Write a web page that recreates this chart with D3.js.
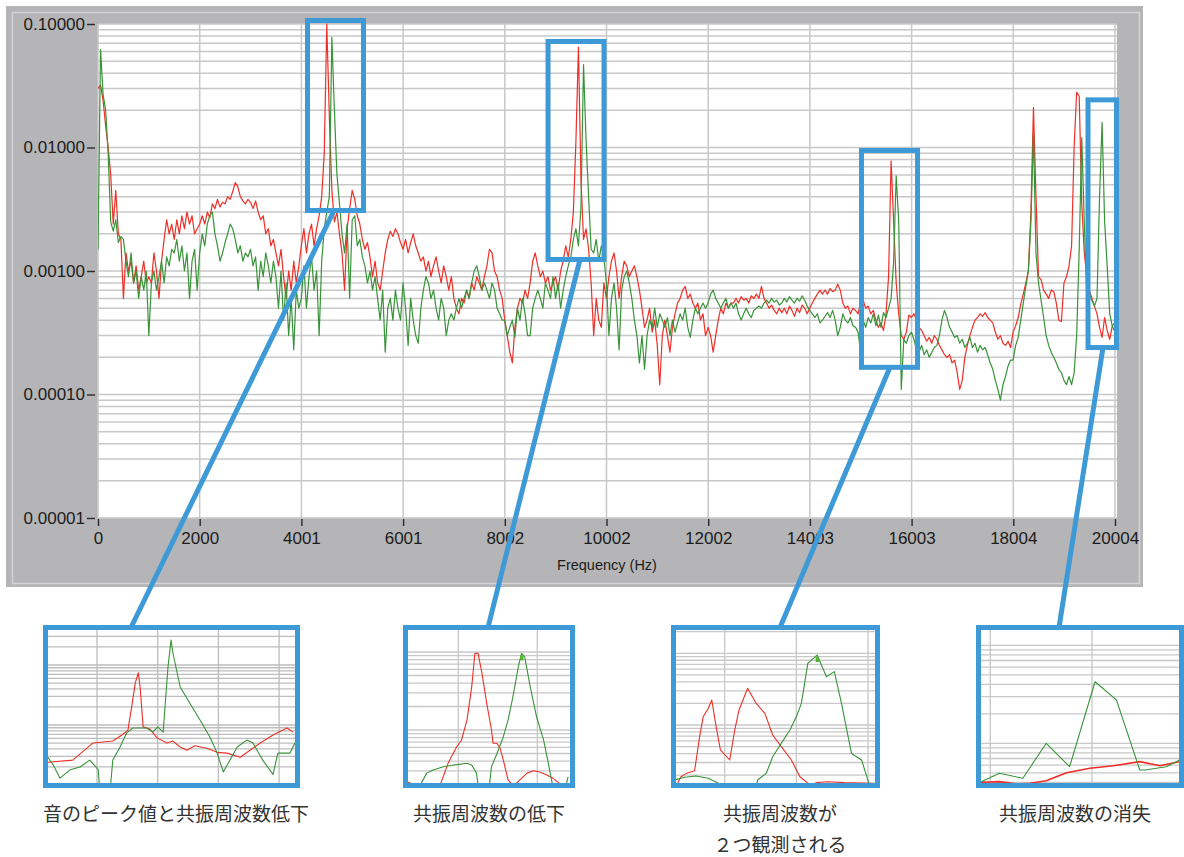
<!DOCTYPE html>
<html lang="ja">
<head>
<meta charset="utf-8">
<title>Frequency spectrum</title>
<script src="https://cdn.jsdelivr.net/npm/d3@7/dist/d3.min.js"></script>
<style>
  html, body { margin: 0; padding: 0; background: #fff; }
  svg { display: block; }
</style>
</head>
<body>
<svg id="chart" width="1184" height="857"></svg>
<script>
// ---- spectrum data: bins every 50 Hz starting at 0 Hz ----
const freqStep = 50;

const redSpectrum = [
  300e-4,320e-4,240e-4,150e-4,100e-4,60e-4,24e-4,45e-4,20e-4,18e-4,
  6e-4,14e-4,10e-4,12e-4,8e-4,11e-4,7e-4,9e-4,12e-4,8e-4,
  9e-4,8e-4,14e-4,10e-4,6e-4,12e-4,18e-4,26e-4,20e-4,24e-4,
  18e-4,26e-4,20e-4,28e-4,22e-4,30e-4,24e-4,28e-4,20e-4,22e-4,
  24e-4,28e-4,24e-4,30e-4,27e-4,35e-4,32e-4,38e-4,33e-4,36e-4,
  35e-4,40e-4,38e-4,44e-4,52e-4,48e-4,40e-4,37e-4,35e-4,38e-4,
  36e-4,32e-4,37e-4,30e-4,26e-4,28e-4,20e-4,22e-4,16e-4,18e-4,
  14e-4,11e-4,15e-4,9e-4,6e-4,10e-4,7e-4,12e-4,8e-4,11e-4,
  16e-4,22e-4,14e-4,20e-4,24e-4,16e-4,22e-4,28e-4,40e-4,90e-4,
  1000e-4,180e-4,45e-4,25e-4,30e-4,20e-4,14e-4,7e-4,22e-4,32e-4,
  45e-4,38e-4,28e-4,24e-4,18e-4,15e-4,17e-4,13e-4,9e-4,12e-4,
  8e-4,7e-4,10e-4,14e-4,18e-4,21e-4,19e-4,22e-4,20e-4,17e-4,
  15e-4,18e-4,14e-4,17e-4,20e-4,16e-4,14e-4,12e-4,13e-4,10e-4,
  12e-4,9e-4,11e-4,13e-4,10e-4,8e-4,11e-4,9e-4,7e-4,9e-4,
  6e-4,5e-4,4.5e-4,6e-4,5.5e-4,7e-4,6e-4,8e-4,7e-4,9e-4,
  8e-4,7e-4,9e-4,11e-4,15e-4,14e-4,10e-4,9e-4,7e-4,6e-4,
  4e-4,3e-4,2.2e-4,1.8e-4,3.5e-4,5e-4,6e-4,5.5e-4,7e-4,6e-4,
  8e-4,12e-4,14e-4,11e-4,9e-4,10e-4,8e-4,9e-4,7e-4,8e-4,
  9e-4,7e-4,10e-4,12e-4,16e-4,13e-4,18e-4,30e-4,110e-4,650e-4,
  55e-4,18e-4,22e-4,15e-4,8e-4,3e-4,6e-4,4e-4,3.5e-4,8e-4,
  6e-4,9e-4,12e-4,14e-4,10e-4,6e-4,9e-4,12e-4,11e-4,9e-4,
  10e-4,11e-4,9e-4,7e-4,5e-4,3.5e-4,4e-4,5e-4,3.2e-4,4e-4,
  2.5e-4,1.2e-4,3e-4,4e-4,3e-4,2.2e-4,3.5e-4,4.5e-4,5.5e-4,6e-4,
  7e-4,7.5e-4,6e-4,6.5e-4,5.5e-4,5e-4,5.5e-4,4e-4,4.5e-4,3e-4,
  3.5e-4,3e-4,2.2e-4,3e-4,4e-4,5e-4,4.5e-4,5.5e-4,5e-4,5.5e-4,
  5.5e-4,6e-4,5.5e-4,6.2e-4,5.8e-4,6e-4,5.5e-4,6.3e-4,6e-4,6.5e-4,
  6e-4,7.5e-4,6e-4,5.5e-4,5e-4,5.3e-4,4.8e-4,4.5e-4,5e-4,4.6e-4,
  5e-4,4.5e-4,5.2e-4,4.8e-4,4.3e-4,5e-4,4.6e-4,5.3e-4,5e-4,4.5e-4,
  5e-4,5.5e-4,6e-4,6.5e-4,7e-4,6.5e-4,7e-4,6.5e-4,7.2e-4,6.8e-4,
  7e-4,7.8e-4,7e-4,5.5e-4,5e-4,5.2e-4,4.5e-4,5e-4,4.8e-4,4.5e-4,
  5.5e-4,5.8e-4,5e-4,5.2e-4,4.5e-4,4.8e-4,4e-4,3.5e-4,3.8e-4,3.3e-4,
  4.5e-4,9e-4,78e-4,25e-4,8e-4,4.5e-4,3e-4,2.8e-4,3.2e-4,4.4e-4,
  4.2e-4,4.5e-4,4e-4,3.5e-4,3.3e-4,3e-4,2.7e-4,2.9e-4,2.6e-4,3e-4,
  2.8e-4,2.5e-4,2.3e-4,2.1e-4,2e-4,2.1e-4,1.8e-4,1.9e-4,1.5e-4,1.1e-4,
  1.3e-4,2e-4,2.5e-4,3e-4,3.5e-4,4e-4,4.2e-4,4.5e-4,4.3e-4,4.6e-4,
  4.2e-4,4e-4,3.8e-4,3.2e-4,2.8e-4,3e-4,2.6e-4,2.5e-4,2.7e-4,2.4e-4,
  3.2e-4,3.6e-4,4.2e-4,5.4e-4,6.5e-4,8e-4,10e-4,30e-4,210e-4,40e-4,
  9e-4,8.5e-4,7e-4,6.5e-4,6e-4,7e-4,6.8e-4,5.5e-4,4e-4,3.9e-4,
  8e-4,9e-4,11e-4,16e-4,100e-4,280e-4,260e-4,35e-4,14e-4,9e-4,
  7e-4,6e-4,5.2e-4,4.5e-4,3.5e-4,2.9e-4,4.2e-4,3.3e-4,2.8e-4,3.6e-4,
  3.8e-4
];

const greenSpectrum = [
  15e-4,620e-4,270e-4,200e-4,90e-4,25e-4,21e-4,26e-4,17e-4,19e-4,
  18e-4,12e-4,9e-4,14e-4,8e-4,10e-4,6e-4,9e-4,7e-4,10e-4,
  3e-4,8e-4,10e-4,7e-4,9e-4,12e-4,8e-4,13e-4,11e-4,15e-4,
  14e-4,18e-4,12e-4,16e-4,10e-4,14e-4,6e-4,12e-4,15e-4,7e-4,
  14e-4,20e-4,16e-4,24e-4,28e-4,30e-4,20e-4,16e-4,12e-4,14e-4,
  17e-4,20e-4,24e-4,22e-4,18e-4,14e-4,16e-4,12e-4,14e-4,13e-4,
  15e-4,11e-4,13e-4,7e-4,12e-4,9e-4,14e-4,11e-4,8e-4,12e-4,
  9e-4,5e-4,10e-4,4e-4,8e-4,3e-4,6e-4,2.3e-4,7e-4,5e-4,
  6e-4,11e-4,5e-4,9e-4,13e-4,7e-4,10e-4,3e-4,12e-4,22e-4,
  30e-4,40e-4,780e-4,200e-4,60e-4,35e-4,20e-4,14e-4,24e-4,6e-4,
  26e-4,28e-4,16e-4,18e-4,13e-4,11e-4,8e-4,10e-4,7e-4,9e-4,
  6e-4,4e-4,7e-4,2.2e-4,5e-4,6e-4,4e-4,7e-4,5e-4,4e-4,
  8e-4,5e-4,2.5e-4,6e-4,4e-4,3e-4,2.6e-4,5e-4,7e-4,9e-4,
  8e-4,6e-4,7e-4,5e-4,4e-4,6e-4,5e-4,3e-4,4e-4,4.5e-4,
  4e-4,5e-4,6e-4,5e-4,6e-4,7e-4,6e-4,8e-4,10e-4,11e-4,
  9e-4,7e-4,8e-4,7e-4,6e-4,8e-4,7e-4,5e-4,4.5e-4,4e-4,
  4e-4,3e-4,3.5e-4,4e-4,2.9e-4,5e-4,4e-4,6e-4,4.5e-4,3e-4,
  3e-4,5e-4,6e-4,7e-4,6e-4,5e-4,8e-4,7e-4,6e-4,9e-4,
  6e-4,8e-4,5e-4,7e-4,9e-4,11e-4,13e-4,18e-4,22e-4,16e-4,
  33e-4,470e-4,115e-4,40e-4,15e-4,14e-4,18e-4,12e-4,16e-4,13e-4,
  8e-4,3e-4,6e-4,8e-4,5e-4,2.3e-4,7e-4,9e-4,10e-4,8e-4,
  6e-4,4e-4,3e-4,1.8e-4,3e-4,1.6e-4,3e-4,4e-4,3.5e-4,5e-4,
  3.5e-4,4.5e-4,4e-4,3.5e-4,4.2e-4,3e-4,4e-4,3.2e-4,3.8e-4,4.5e-4,
  4e-4,5e-4,3.5e-4,2.9e-4,4e-4,5e-4,4.5e-4,5e-4,5.5e-4,5e-4,
  5.5e-4,6.5e-4,7e-4,6e-4,5.5e-4,5e-4,5.5e-4,6e-4,5e-4,5.5e-4,
  5e-4,5.5e-4,4.5e-4,4e-4,4.5e-4,5e-4,4.5e-4,4.2e-4,4.8e-4,5e-4,
  5.2e-4,5e-4,5.5e-4,5.8e-4,5.5e-4,6e-4,5.6e-4,5.8e-4,5.3e-4,5.5e-4,
  6e-4,5.6e-4,6.2e-4,5.8e-4,5.5e-4,6e-4,5.7e-4,6.3e-4,5.8e-4,5.2e-4,
  4.8e-4,4.5e-4,4.2e-4,4.5e-4,3.8e-4,4e-4,4.3e-4,4.6e-4,4.2e-4,4.8e-4,
  4e-4,3e-4,3.5e-4,4.5e-4,4e-4,3.8e-4,4.2e-4,3.6e-4,3.5e-4,3.2e-4,
  2.2e-4,4e-4,3.5e-4,4.2e-4,3.8e-4,4.5e-4,3.6e-4,4.4e-4,3.5e-4,4.6e-4,
  4.2e-4,5e-4,6e-4,12e-4,59e-4,25e-4,1.1e-4,2.8e-4,2.6e-4,3e-4,
  3.2e-4,2.8e-4,2.3e-4,2.2e-4,2.5e-4,2.1e-4,2.3e-4,2e-4,2.2e-4,2.4e-4,
  2.5e-4,3e-4,4e-4,4.8e-4,4.2e-4,3.5e-4,3.2e-4,2.9e-4,3e-4,2.6e-4,
  2.8e-4,2.4e-4,2.6e-4,2.9e-4,2.4e-4,2.6e-4,2.2e-4,2.5e-4,2.3e-4,2.4e-4,
  2.1e-4,1.8e-4,1.6e-4,1.3e-4,1.1e-4,0.9e-4,1.2e-4,1.4e-4,1.7e-4,1.9e-4,
  1.9e-4,2.5e-4,2.9e-4,4e-4,5.5e-4,7.5e-4,10e-4,25e-4,130e-4,14e-4,
  8e-4,5.8e-4,4.2e-4,3e-4,2.5e-4,2.2e-4,2e-4,1.8e-4,1.6e-4,1.5e-4,
  1.3e-4,1.2e-4,1.4e-4,1.2e-4,1.5e-4,3e-4,15e-4,120e-4,25e-4,6e-4,
  6.5e-4,5.8e-4,5.2e-4,6e-4,40e-4,160e-4,25e-4,11e-4,4.5e-4,3.6e-4,
  3.2e-4
];

// ---- axes ----
const freqTicks = [0, 2000.4, 4000.8, 6001.2, 8001.6, 10002, 12002.4, 14002.8, 16003.2, 18003.6, 20004];
const freqTickLabels = ["0", "2000", "4001", "6001", "8002", "10002", "12002", "14003", "16003", "18004", "20004"];
const ampTicks = [0.1, 0.01, 0.001, 0.0001, 0.00001];
const ampTickLabels = ["0.10000", "0.01000", "0.00100", "0.00010", "0.00001"];
const xAxisTitle = "Frequency (Hz)";

// ---- highlighted regions on the spectrum: Hz range, amplitude range, Hz where the leader starts ----
const highlightFromHz = [4121, 8852, 15018, 19473];
const highlightToHz = [5222, 9953, 16120, 20034];
const highlightTopAmp = [0.1067, 0.0722, 0.00946, 0.0243];
const highlightBottomAmp = [0.00309, 0.00124, 0.000166, 0.00024];
const leaderHz = [4642, 9481, 15578, 19768];

// ---- close-up views ----
const inset1RedHz = [4319,4360,4393,4426,4441,4451,4458,4463,4468,4471,4476,4487,4499,4515,4525,4537,4548,4561,4581,4598,4614,4636,4652,4669,4690,4713,4723];
const inset1RedAmp = [2.4e-4,2.6e-4,5.0e-4,5.4e-4,6.8e-4,8.2e-4,2.3e-3,5.0e-3,7.4e-3,4.3e-3,9.3e-4,8.6e-4,6.1e-4,5.0e-4,5.4e-4,4.3e-4,3.8e-4,4.5e-4,4.1e-4,3.5e-4,3.4e-4,2.9e-4,3.8e-4,5.0e-4,6.8e-4,8.9e-4,7.6e-4];
const inset1GreenHz = [4319,4328,4339,4356,4372,4388,4402,4405,4421,4426,4438,4449,4459,4482,4492,4500,4509,4512,4517,4522,4525,4537,4553,4570,4586,4598,4608,4619,4631,4647,4657,4673,4690,4698,4718,4726];
const inset1GreenAmp = [2.9e-4,2.15e-4,1.3e-4,1.8e-4,2.0e-4,2.6e-4,1.8e-4,6.8e-5,6.8e-5,2.6e-4,4.3e-4,7.4e-4,8.9e-4,8.9e-4,7.6e-4,9.3e-4,7.6e-4,2.0e-3,9.3e-3,2.6e-2,1.6e-2,4.3e-3,2.3e-3,1.2e-3,6.3e-4,3.4e-4,1.65e-4,2.6e-4,4.3e-4,5.6e-4,5.0e-4,2.6e-4,1.5e-4,3.4e-4,3.4e-4,5.0e-4];

const inset2RedHz = [9335,9345,9352,9368,9377,9387,9398,9404,9411,9417,9421,9425,9430,9436,9442,9444,9449,9453,9457,9463,9470,9478,9487,9495,9503,9512,9520,9528,9537];
const inset2RedAmp = [2.17e-4,1.97e-4,1.46e-4,1.46e-4,1.97e-4,3.74e-4,6.1e-4,7.4e-4,1.34e-3,3.6e-3,9.6e-3,9.6e-3,5.3e-3,2.2e-3,1.0e-3,6.75e-4,6.75e-4,5.8e-4,4.1e-4,2.3e-4,1.9e-4,2.3e-4,2.8e-4,3.0e-4,2.9e-4,2.65e-4,2.4e-4,2.07e-4,1.88e-4];
const inset2GreenHz = [9352,9360,9368,9381,9394,9411,9417,9423,9427,9438,9442,9449,9457,9463,9470,9476,9480,9484,9491,9499,9508,9514,9518,9522,9533,9537,9539];
const inset2GreenAmp = [1.97e-4,2.8e-4,3.07e-4,3.38e-4,3.55e-4,3.74e-4,3.55e-4,2.8e-4,1.46e-4,1.46e-4,3.38e-4,5.0e-4,8.2e-4,1.34e-3,2.95e-3,6.5e-3,9.6e-3,8.7e-3,3.6e-3,1.48e-3,7.4e-4,3.74e-4,2.3e-4,1.46e-4,1.46e-4,2.07e-4,2.5e-4];

const inset3RedHz = [15533,15539,15546,15558,15565,15570,15577,15582,15588,15594,15607,15614,15620,15632,15644,15656,15667,15679,15693,15705,15719,15728,15744,15767,15809];
const inset3RedAmp = [1.46e-4,1.9e-4,2.1e-4,2.3e-4,6.9e-4,1.3e-3,1.7e-3,2.23e-3,9.5e-4,4.5e-4,3.25e-4,8.5e-4,1.62e-3,3.25e-3,2.0e-3,1.45e-3,7.25e-4,5.0e-4,3.25e-4,1.9e-4,1.46e-4,1.57e-4,1.62e-4,1.57e-4,1.54e-4];
const inset3GreenHz = [15530,15544,15560,15577,15591,15598,15642,15646,15658,15667,15679,15691,15700,15707,15716,15729,15742,15753,15763,15777,15791,15802];
const inset3GreenAmp = [1.71e-4,1.87e-4,1.94e-4,1.81e-4,1.54e-4,1.16e-4,1.16e-4,1.71e-4,2.12e-4,3.6e-4,5.55e-4,8.5e-4,1.3e-3,2.0e-3,7.25e-3,9.45e-3,4.7e-3,5.55e-3,2.0e-3,4.0e-4,3.25e-4,1.46e-4];

const inset4RedHz = [19591,19609,19626,19639,19655,19675,19698,19721,19747,19767,19786];
const inset4RedAmp = [4.0e-4,4.06e-4,3.85e-4,3.91e-4,4.15e-4,5.0e-4,5.56e-4,5.9e-4,6.5e-4,5.9e-4,6.5e-4];
const inset4GreenHz = [19591,19609,19632,19655,19678,19703,19724,19747,19752,19773,19786];
const inset4GreenAmp = [4.06e-4,4.94e-4,4.4e-4,1.0e-3,5.77e-4,4.25e-3,2.77e-3,5.34e-4,5.34e-4,5.77e-4,6.75e-4];

const captions = [
  ["音のピーク値と共振周波数低下"],
  ["共振周波数の低下"],
  ["共振周波数が", "２つ観測される"],
  ["共振周波数の消失"]
];

// ---- drawing ----
const W = 1184, H = 857;
const svg = d3.select("#chart");
const latin = "'Liberation Sans', Arial, Helvetica, sans-serif";
const cjk = "'Noto Sans CJK JP', 'Noto Sans CJK SC', sans-serif";
const blue = "#3d9ad6";
const redColor = "#ee2f27";
const greenColor = "#389339";

svg.append("rect").attr("width", W).attr("height", H).attr("fill", "#fff");
const defs = svg.append("defs");
defs.append("filter").attr("id", "soft").attr("x", "-5%").attr("y", "-5%").attr("width", "110%").attr("height", "110%")
  .append("feGaussianBlur").attr("stdDeviation", 0.65);

// grey instrument panel around the graph
svg.append("rect").attr("x", 6).attr("y", 6).attr("width", 1137).attr("height", 581).attr("fill", "#b5b5b7");
svg.append("rect").attr("x", 12.5).attr("y", 12.5).attr("width", 1127).attr("height", 571)
  .attr("fill", "none").attr("stroke", "#d4d4d6").attr("stroke-width", 1.5);

const plot = { left: 98, top: 24, right: 1117, bottom: 518 };
const x = d3.scaleLinear().domain([0, 20004]).range([98, 1115]);
const y = d3.scaleLog().domain([1e-5, 0.1]).range([plot.bottom, plot.top]);

svg.append("rect").attr("x", plot.left).attr("y", plot.top)
  .attr("width", plot.right - plot.left).attr("height", plot.bottom - plot.top).attr("fill", "#fff");
defs.append("clipPath").attr("id", "plotClip").append("rect")
  .attr("x", plot.left).attr("y", plot.top - 1)
  .attr("width", plot.right - plot.left).attr("height", plot.bottom - plot.top + 1);

// grid
const hGrid = svg.append("g").attr("stroke", "#c8c8c8").attr("stroke-width", 1.5);
hGrid.selectAll("line").data(y.ticks()).join("line")
  .attr("x1", plot.left).attr("x2", plot.right)
  .attr("y1", d => y(d)).attr("y2", d => y(d));
const vGrid = svg.append("g").attr("stroke", "#c8c8c8").attr("stroke-width", 1.5);
vGrid.selectAll("line").data(freqTicks).join("line")
  .attr("x1", d => x(d)).attr("x2", d => x(d))
  .attr("y1", plot.top).attr("y2", plot.bottom);

// axes
const yAxis = svg.append("g").attr("transform", "translate(95,0)")
  .call(d3.axisLeft(y).tickValues(ampTicks).tickFormat((d, i) => ampTickLabels[i]).tickSize(8).tickPadding(2));
const xAxis = svg.append("g").attr("transform", `translate(0,${plot.bottom + 1})`)
  .call(d3.axisBottom(x).tickValues(freqTicks).tickFormat((d, i) => freqTickLabels[i]).tickSize(7).tickPadding(6));
[yAxis, xAxis].forEach(g => {
  g.select(".domain").remove();
  g.selectAll(".tick line").attr("stroke", "#2a2a2a").attr("stroke-width", 1.4);
  g.selectAll(".tick text").attr("fill", "#1c1c1c").style("font-family", latin).style("font-size", "17px");
});
svg.append("text").attr("x", 607).attr("y", 570).attr("text-anchor", "middle")
  .style("font-family", latin).style("font-size", "14.5px").attr("fill", "#1c1c1c").text(xAxisTitle);

// spectra
const spectrumLine = d3.line().x((d, i) => x(i * freqStep)).y(d => y(d));
const traces = svg.append("g").attr("clip-path", "url(#plotClip)");
traces.append("path").datum(redSpectrum).attr("d", spectrumLine)
  .attr("fill", "none").attr("stroke", redColor).attr("stroke-width", 1.2).attr("stroke-linejoin", "round");
traces.append("path").datum(greenSpectrum).attr("d", spectrumLine)
  .attr("fill", "none").attr("stroke", greenColor).attr("stroke-width", 1.2).attr("stroke-linejoin", "round");

// close-up panels: frame (stroke centre line), axis anchors
const insetFrames = [
  { x: 45.5, y: 627.5, w: 252, h: 158 },
  { x: 405.5, y: 627.5, w: 167, h: 158 },
  { x: 673.5, y: 627.5, w: 204, h: 158 },
  { x: 978.5, y: 627.5, w: 203, h: 158 }
];
const insetLinkX = [131, 488, 780, 1059];
const insetHzDomain = [[4400, 4700], [9400, 9500], [15600, 15800], [19600, 19700]];
const insetHzRange = [[97, 279.1], [458.3, 537.3], [724.7, 868], [990.3, 1092]];
const insetAmpRange = [[785, 605], [808, 574], [796.7, 581.6], [841.3, 547.3]];
const insetSeries = [
  [[inset1RedHz, inset1RedAmp], [inset1GreenHz, inset1GreenAmp]],
  [[inset2RedHz, inset2RedAmp], [inset2GreenHz, inset2GreenAmp]],
  [[inset3RedHz, inset3RedAmp], [inset3GreenHz, inset3GreenAmp]],
  [[inset4RedHz, inset4RedAmp], [inset4GreenHz, inset4GreenAmp]]
];

// leader lines from the highlighted regions to the close-ups
const leaders = svg.append("g").attr("stroke", blue).attr("stroke-width", 5).attr("stroke-linecap", "butt");
leaderHz.forEach((hz, i) => {
  leaders.append("line")
    .attr("x1", x(hz)).attr("y1", y(highlightBottomAmp[i]))
    .attr("x2", insetLinkX[i]).attr("y2", insetFrames[i].y);
});

// highlight boxes on the spectrum
const boxes = svg.append("g").attr("fill", "none").attr("stroke", blue).attr("stroke-width", 5);
highlightFromHz.forEach((hz, i) => {
  boxes.append("rect")
    .attr("x", x(hz)).attr("y", y(highlightTopAmp[i]))
    .attr("width", x(highlightToHz[i]) - x(hz))
    .attr("height", y(highlightBottomAmp[i]) - y(highlightTopAmp[i]));
});

insetFrames.forEach((f, k) => {
  const inner = { x: f.x + 2.5, y: f.y + 2.5, w: f.w - 5, h: f.h - 5 };
  const xs = d3.scaleLinear().domain(insetHzDomain[k]).range(insetHzRange[k]);
  const ys = d3.scaleLog().domain([1e-4, 1e-1]).range(insetAmpRange[k]);
  defs.append("clipPath").attr("id", "insetClip" + k).append("rect")
    .attr("x", inner.x).attr("y", inner.y).attr("width", inner.w).attr("height", inner.h);

  svg.append("rect").attr("x", inner.x).attr("y", inner.y).attr("width", inner.w).attr("height", inner.h).attr("fill", "#fff");
  const g = svg.append("g").attr("clip-path", "url(#insetClip" + k + ")");
  const body = k === 0 ? g.append("g").attr("filter", "url(#soft)") : g;
  const gridColor = k === 0 ? "#bdbdbd" : "#c8c8c8";

  // grid: every 100 Hz and every log sub-division
  const hzLo = xs.invert(inner.x), hzHi = xs.invert(inner.x + inner.w);
  const vLines = d3.range(Math.ceil(hzLo / 100) * 100, hzHi, 100);
  const ampLo = ys.invert(inner.y + inner.h), ampHi = ys.invert(inner.y);
  const hLines = d3.scaleLog().domain([ampLo, ampHi]).ticks().filter(v => v >= ampLo && v <= ampHi);

  body.append("g").attr("stroke", gridColor).attr("stroke-width", 1.3)
    .selectAll("line").data(hLines).join("line")
    .attr("x1", inner.x).attr("x2", inner.x + inner.w)
    .attr("y1", d => ys(d)).attr("y2", d => ys(d));
  body.append("g").attr("stroke", gridColor).attr("stroke-width", 1.3)
    .selectAll("line").data(vLines).join("line")
    .attr("x1", d => xs(d)).attr("x2", d => xs(d))
    .attr("y1", inner.y).attr("y2", inner.y + inner.h);

  const [redPair, greenPair] = insetSeries[k];
  const pts = pair => pair[0].map((hz, i) => [xs(hz), ys(pair[1][i])]);
  const ln = d3.line();
  body.append("path").attr("d", ln(pts(redPair))).attr("fill", "none")
    .attr("stroke", redColor).attr("stroke-width", k === 3 ? 1.6 : 1.1).attr("stroke-linejoin", "round");
  body.append("path").attr("d", ln(pts(greenPair))).attr("fill", "none")
    .attr("stroke", greenColor).attr("stroke-width", 1.1).attr("stroke-linejoin", "round");

  // cursor marker at the green maximum in the middle close-ups
  if (k === 1 || k === 2) {
    const iMax = d3.maxIndex(greenPair[1]);
    body.append("rect")
      .attr("x", xs(greenPair[0][iMax]) - 1.5).attr("y", ys(greenPair[1][iMax]) + 2)
      .attr("width", 3.5).attr("height", 5).attr("fill", "#58b531");
  }

  svg.append("rect").attr("x", f.x).attr("y", f.y).attr("width", f.w).attr("height", f.h)
    .attr("fill", "none").attr("stroke", blue).attr("stroke-width", 5);
});

// captions under each close-up
const captionX = [176, 489, 780, 1075];
captions.forEach((lines, i) => {
  lines.forEach((t, j) => {
    svg.append("text").attr("x", captionX[i]).attr("y", 821 + j * 31)
      .attr("text-anchor", "middle").style("font-family", cjk).style("font-size", "19px")
      .attr("fill", "#333").text(t);
  });
});
</script>
</body>
</html>
